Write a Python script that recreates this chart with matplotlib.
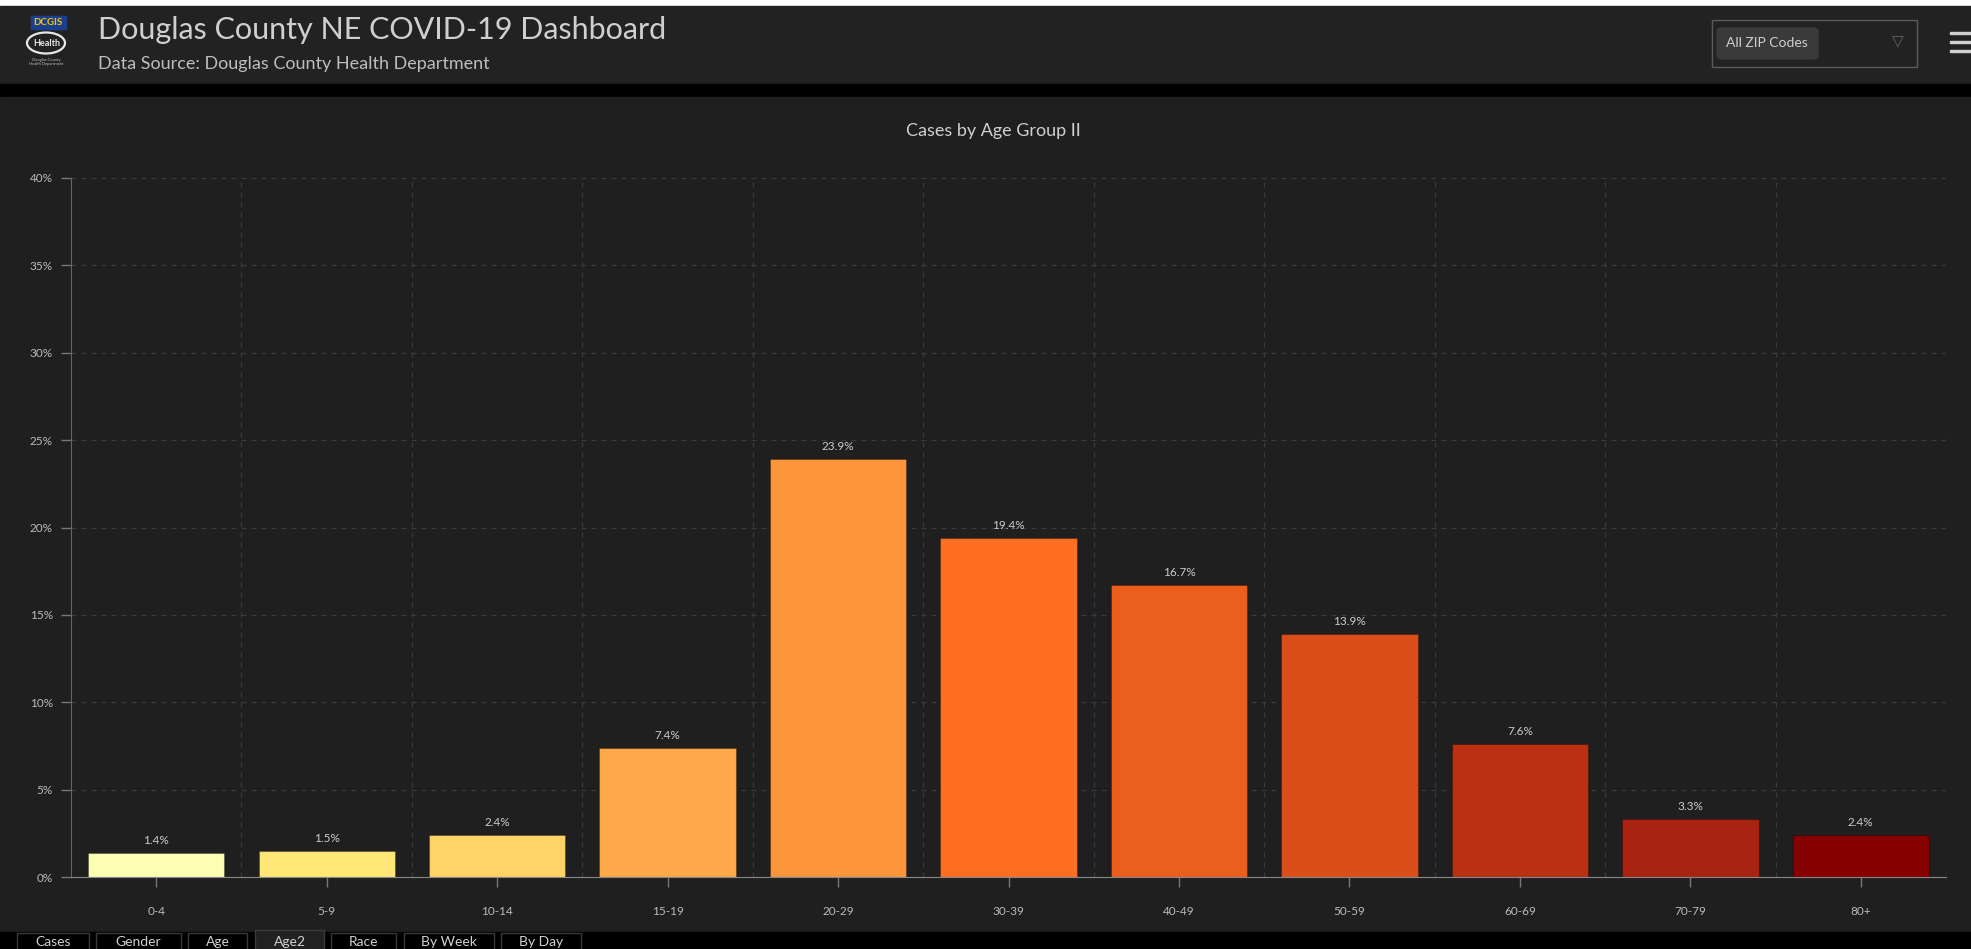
import matplotlib.pyplot as plt
from matplotlib.patches import Rectangle, FancyBboxPatch, Ellipse

# data
age_groups = ["0-4", "5-9", "10-14", "15-19", "20-29", "30-39", "40-49", "50-59", "60-69", "70-79", "80+"]
pct_cases = [1.4, 1.5, 2.4, 7.4, 23.9, 19.4, 16.7, 13.9, 7.6, 3.3, 2.4]
bar_colors = ["#ffffb4", "#ffe775", "#ffd467", "#ffaa4a", "#ff963c", "#ff6f22",
              "#ec5e1d", "#dc4e19", "#bb2f13", "#aa2210", "#870000"]
y_ticks = [0, 5, 10, 15, 20, 25, 30, 35, 40]
tab_names = ["Cases", "Gender", "Age", "Age2", "Race", "By Week", "By Day"]

W, H = 1971, 949
plt.rcParams['font.family'] = ['Lato', 'DejaVu Sans']

fig = plt.figure(figsize=(W / 100, H / 100), dpi=100)
fig.patch.set_facecolor('#1f1f1f')


def px_rect(x0, y0, x1, y1, zorder=-5, **kw):
    # rectangle given in pixel coords (origin top-left)
    r = Rectangle((x0 / W, 1 - y1 / H), (x1 - x0) / W, (y1 - y0) / H,
                  transform=fig.transFigure, zorder=zorder, **kw)
    fig.patches.append(r)
    return r


def px_text(x, y, s, **kw):
    return fig.text(x / W, 1 - y / H, s, **kw)


# page chrome
px_rect(0, 0, W, 6, color='white', zorder=-10)
px_rect(0, 6, W, 84, color='#222222', zorder=-10)
px_rect(0, 84, W, 97, color='#000000', zorder=-10)
px_rect(0, 97, W, 932, color='#1f1f1f', zorder=-10)
px_rect(0, 932, W, H, color='#000000', zorder=-10)

# logo (rough)
px_rect(31, 16, 66, 29, color='#1b3f8f', zorder=-4)
px_text(48, 22.5, "DCGIS", fontsize=7, color='#f2c200', ha='center', va='center', fontweight='bold')
fig.patches.append(Ellipse((46 / W, 1 - 43 / H), 38 / W, 21 / H, transform=fig.transFigure,
                           facecolor='#222222', edgecolor='#e8e8e8', lw=1.6, zorder=-4))
px_text(47, 43, "Health", fontsize=6.5, color='#e8e8e8', ha='center', va='center', fontweight='bold')
px_text(46, 62, "Douglas County\nHealth Department", fontsize=3, color='#bbbbbb', ha='center', va='center')

px_text(98, 30, "Douglas County NE COVID-19 Dashboard", fontsize=22, color='#cfcfcf', va='center')
px_text(98, 64, "Data Source: Douglas County Health Department", fontsize=13, color='#bdbdbd', va='center')

# zip code dropdown
px_rect(1712, 20, 1917, 67, facecolor='none', edgecolor='#5a5a5a', lw=1)
fig.patches.append(FancyBboxPatch((1717 / W, 1 - 59 / H), 101 / W, 31 / H,
                                  boxstyle="round,pad=0,rounding_size=0.003",
                                  transform=fig.transFigure, color='#3a3a3a', zorder=-4))
px_text(1767, 43, "All ZIP Codes", fontsize=10, color='#cfcfcf', ha='center', va='center')
px_text(1898, 42, "\u25bd", fontsize=11, color='#666666', ha='center', va='center',
        family=['DejaVu Sans'])
for yy in (33, 42, 51):
    px_rect(1950, yy - 1, W, yy + 1, color='#d0d0d0')

# bottom tabs
tab_edges = [(17, 89), (96, 181), (188, 247), (255, 324), (331, 396), (404, 494), (501, 581)]
for name, (a, b) in zip(tab_names, tab_edges):
    active = name == "Age2"
    top = 930 if active else 933
    px_rect(a, top, b, H + 2, facecolor='#222222' if active else '#000000',
            edgecolor='#3a3a3a', lw=1)
    px_text((a + b) / 2, 941.5, name, fontsize=10, color='#d0d0d0', ha='center', va='center')

# chart
ax = fig.add_axes([71 / W, (H - 877) / H, (1946 - 71) / W, (877 - 178) / H])
ax.set_facecolor('#1f1f1f')
x = list(range(len(age_groups)))
bars = ax.bar(x, pct_cases, width=0.8, color=bar_colors, linewidth=0.8, zorder=3)
for b in bars:
    b.set_edgecolor((0, 0, 0, 0.25))
ax.bar_label(bars, labels=[f"{v}%" for v in pct_cases], padding=5, fontsize=8.5, color='#cccccc')

ax.set_xlim(-0.5, len(age_groups) - 0.5)
ax.set_ylim(0, 40)
ax.set_yticks(y_ticks)
ax.set_yticklabels([f"{t}%" for t in y_ticks])
ax.set_xticks(x)
ax.set_xticklabels(age_groups)
ax.tick_params(axis='both', colors='#777777', labelcolor='#bbbbbb', labelsize=8.5, length=7, width=1)
ax.tick_params(axis='x', pad=14)
ax.tick_params(axis='y', pad=6)

for t in y_ticks[1:]:
    ax.axhline(t, color='#3a3a3a', lw=0.9, ls=(0, (4, 4)), zorder=1)
for i in range(len(age_groups)):
    ax.axvline(i + 0.5, color='#3a3a3a', lw=0.9, ls=(0, (4, 4)), zorder=1)

for side in ('top', 'right'):
    ax.spines[side].set_visible(False)
ax.spines['left'].set_color('#666666')
ax.spines['bottom'].set_color('#888888')
ax.spines['bottom'].set_zorder(4)

px_text(993, 131, "Cases by Age Group II", fontsize=13, color='#cfcfcf', ha='center', va='center')

fig.savefig("out.png", dpi=100, facecolor=fig.get_facecolor())
